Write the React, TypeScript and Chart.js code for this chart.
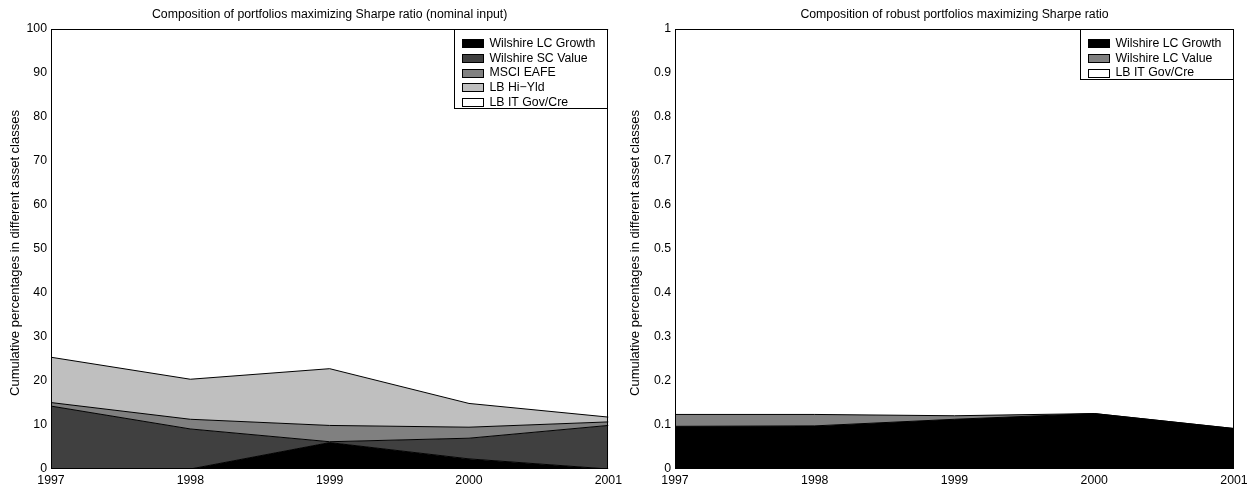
import React, { useEffect, useRef } from "react";
import { Chart, registerables } from "chart.js";

Chart.register(...registerables);

const FONT_FAMILY = '"Liberation Sans", Arial, Helvetica, sans-serif';
const FONT_SIZE = 12.3;
const YLABEL_SIZE = 13;

// Years on the horizontal axis
const years = ["1997", "1998", "1999", "2000", "2001"];

// Nominal-input portfolio weights (percent)
const lcGrowthNominal = [0, 0, 6.0, 2.3, 0];
const scValueNominal = [14.3, 9.1, 0.2, 4.7, 9.9];
const msciEafeNominal = [0.8, 2.2, 3.7, 2.5, 0.8];
const hiYldNominal = [10.3, 9.1, 12.9, 5.4, 1.1];
const itGovCreNominal = [74.6, 79.6, 77.2, 85.1, 88.2];

// Robust portfolio weights (fractions)
const lcGrowthRobust = [0.097, 0.098, 0.113, 0.126, 0.092];
const lcValueRobust = [0.027, 0.026, 0.008, 0, 0];
const itGovCreRobust = [0.876, 0.876, 0.879, 0.874, 0.908];

const nominalSeries = [
  { label: "Wilshire LC Growth", data: lcGrowthNominal, color: "#000000" },
  { label: "Wilshire SC Value", data: scValueNominal, color: "#404040" },
  { label: "MSCI EAFE", data: msciEafeNominal, color: "#808080" },
  { label: "LB Hi\u2212Yld", data: hiYldNominal, color: "#bfbfbf" },
  { label: "LB IT Gov/Cre", data: itGovCreNominal, color: "#ffffff" },
];

const robustSeries = [
  { label: "Wilshire LC Growth", data: lcGrowthRobust, color: "#000000" },
  { label: "Wilshire LC Value", data: lcValueRobust, color: "#808080" },
  { label: "LB IT Gov/Cre", data: itGovCreRobust, color: "#ffffff" },
];

const yAxisTitle = "Cumulative percentages in different asset classes";

// Axes box, centred title, rotated y label and an inset legend (top-right)
const frameAndLegend = {
  id: "frameAndLegend",
  afterDatasetsDraw(chart: any, _args: any, opts: any) {
    const { ctx, chartArea } = chart;
    const l = Math.round(chartArea.left) + 0.5;
    const t = Math.round(chartArea.top) + 0.5;
    const r = Math.round(chartArea.right) - 0.5;
    const b = Math.round(chartArea.bottom) - 0.5;
    ctx.save();
    ctx.strokeStyle = "#000";
    ctx.lineWidth = 1;
    ctx.strokeRect(l, t, r - l, b - t);

    // title over the plotting area
    ctx.fillStyle = "#000";
    ctx.font = `${FONT_SIZE}px ${FONT_FAMILY}`;
    ctx.textAlign = "center";
    ctx.textBaseline = "middle";
    ctx.fillText(opts.title, (chartArea.left + chartArea.right) / 2, 14.6);

    // vertical axis label
    ctx.save();
    ctx.font = `${YLABEL_SIZE}px ${FONT_FAMILY}`;
    ctx.translate(chartArea.left - opts.ylabelOffset, (chartArea.top + chartArea.bottom) / 2 + 4);
    ctx.rotate(-Math.PI / 2);
    ctx.fillText(opts.ylabel, 0, 0);
    ctx.restore();

    // legend
    const datasets = chart.data.datasets;
    ctx.font = `${FONT_SIZE}px ${FONT_FAMILY}`;
    let maxW = 0;
    datasets.forEach((d: any) => {
      maxW = Math.max(maxW, ctx.measureText(d.label).width);
    });
    const rowH = 14.75;
    const boxW = Math.round(35 + maxW + 12);
    const boxH = Math.round(13.5 + (datasets.length - 1) * rowH + 6.5);
    const bx = r - boxW;
    const by = t;
    ctx.fillStyle = "#fff";
    ctx.fillRect(bx, by, boxW, boxH);
    ctx.strokeRect(bx, by, boxW, boxH);
    datasets.forEach((d: any, i: number) => {
      const cy = by + 13.5 + i * rowH;
      const sx = Math.round(bx + 7) + 0.5;
      const sy = Math.round(cy - 4) + 0.5;
      ctx.fillStyle = d.backgroundColor;
      ctx.fillRect(sx, sy, 21, 8);
      ctx.strokeStyle = "#000";
      ctx.strokeRect(sx, sy, 21, 8);
      ctx.fillStyle = "#000";
      ctx.textAlign = "left";
      ctx.textBaseline = "middle";
      ctx.fillText(d.label, bx + 35, cy + 0.5);
    });
    ctx.restore();
  },
};

type Series = { label: string; data: number[]; color: string };

function makeConfig(
  title: string,
  series: Series[],
  yMax: number,
  yStep: number,
  yAxisWidth: number,
  padRight: number,
  ylabelOffset: number
): any {
  return {
    type: "line",
    data: {
      labels: years,
      datasets: series.map((s, i) => ({
        label: s.label,
        data: s.data,
        backgroundColor: s.color,
        borderColor: "#000",
        borderWidth: 1,
        pointRadius: 0,
        tension: 0,
        fill: i === 0 ? "origin" : "-1",
      })),
    },
    options: {
      animation: false,
      responsive: false,
      events: [],
      layout: { padding: { left: 0, right: padRight, top: 29, bottom: 0 } },
      plugins: {
        legend: { display: false },
        tooltip: { enabled: false },
        title: { display: false },
        frameAndLegend: { title, ylabel: yAxisTitle, ylabelOffset },
      },
      scales: {
        x: {
          type: "category",
          offset: false,
          grid: { display: false, drawTicks: false },
          border: { display: false },
          ticks: {
            color: "#000",
            font: { family: FONT_FAMILY, size: FONT_SIZE },
            padding: 4,
            maxRotation: 0,
            autoSkip: false,
          },
          afterFit: (s: any) => {
            s.height = 16;
          },
        },
        y: {
          stacked: true,
          min: 0,
          max: yMax,
          grid: { display: false, drawTicks: false },
          border: { display: false },
          ticks: {
            stepSize: yStep,
            color: "#000",
            font: { family: FONT_FAMILY, size: FONT_SIZE },
            padding: 4,
            callback: (v: number) => String(Number(v.toFixed(2))),
          },
          afterFit: (s: any) => {
            s.width = yAxisWidth;
          },
        },
      },
    },
    plugins: [frameAndLegend],
  };
}

function AreaChart(props: { config: any; left: number; width: number }) {
  const ref = useRef<HTMLCanvasElement | null>(null);
  useEffect(() => {
    if (!ref.current) return;
    const chart = new Chart(ref.current, props.config);
    return () => chart.destroy();
  }, []);
  return (
    <canvas
      ref={ref}
      width={props.width}
      height={485}
      style={{ position: "absolute", left: props.left, top: 0, width: props.width, height: 485 }}
    />
  );
}

export default function App() {
  const nominalConfig = makeConfig(
    "Composition of portfolios maximizing Sharpe ratio (nominal input)",
    nominalSeries,
    100,
    10,
    51,
    17,
    36
  );
  const robustConfig = makeConfig(
    "Composition of robust portfolios maximizing Sharpe ratio",
    robustSeries,
    1,
    0.1,
    49,
    19,
    40
  );
  return (
    <div
      style={{
        position: "fixed",
        left: 0,
        top: 0,
        width: 1253,
        height: 485,
        background: "#fff",
        overflow: "hidden",
      }}
    >
      <AreaChart config={nominalConfig} left={0} width={626} />
      <AreaChart config={robustConfig} left={626} width={627} />
    </div>
  );
}
